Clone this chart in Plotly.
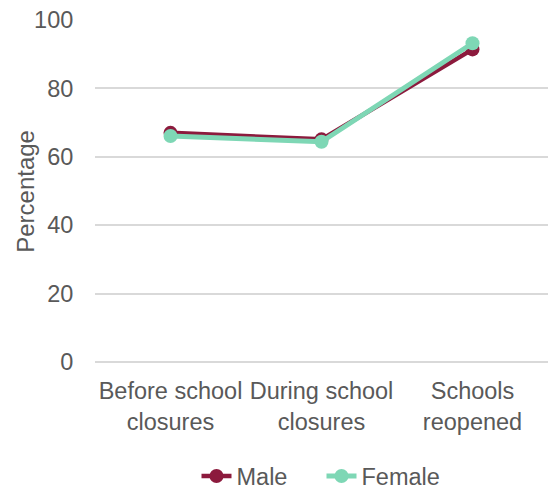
import plotly.graph_objects as go

categories = ["Before school<br>closures", "During school<br>closures", "Schools<br>reopened"]
male = [67.0, 65.1, 91.4]
female = [66.1, 64.4, 93.2]

fig = go.Figure()
fig.add_trace(go.Scatter(x=categories, y=male, name="Male", mode="lines+markers",
                         line=dict(color="#8C1A3D", width=4.5),
                         marker=dict(color="#8C1A3D", size=14)))
fig.add_trace(go.Scatter(x=categories, y=female, name="Female", mode="lines+markers",
                         line=dict(color="#7ED7B5", width=5),
                         marker=dict(color="#7ED7B5", size=14)))

FS = 23.5
font = dict(family="Liberation Sans, Arial, sans-serif", size=FS, color="#595959")
fig.update_layout(
    width=548, height=493,
    margin=dict(l=95, r=0, t=20, b=131),
    plot_bgcolor="white", paper_bgcolor="white",
    font=font,
    showlegend=True,
    legend=dict(orientation="h", x=0.5, xanchor="center", yref="container", y=0.034, yanchor="middle",
                entrywidth=80, entrywidthmode="pixels",
                font=dict(size=FS, color="#595959")),
    xaxis=dict(range=[-0.5, 2.5], showgrid=False, showline=False,
               ticks="outside", ticklen=8, tickcolor="rgba(0,0,0,0)",
               tickfont=dict(size=FS, color="#595959")),
    yaxis=dict(range=[0, 100], dtick=20, showgrid=True, gridcolor="#D9D9D9", gridwidth=1.5,
               zeroline=True, zerolinecolor="#D9D9D9", zerolinewidth=1.5,
               showline=False, ticks="outside", ticklen=16, tickcolor="rgba(0,0,0,0)",
               tickfont=dict(size=FS, color="#595959")),
    annotations=[dict(text="Percentage", xref="paper", yref="paper", x=-0.155, y=0.5,
                      xanchor="center", yanchor="middle", textangle=-90, showarrow=False,
                      font=dict(size=FS + 0.5, color="#595959"))],
)
fig.write_html("out.html")
